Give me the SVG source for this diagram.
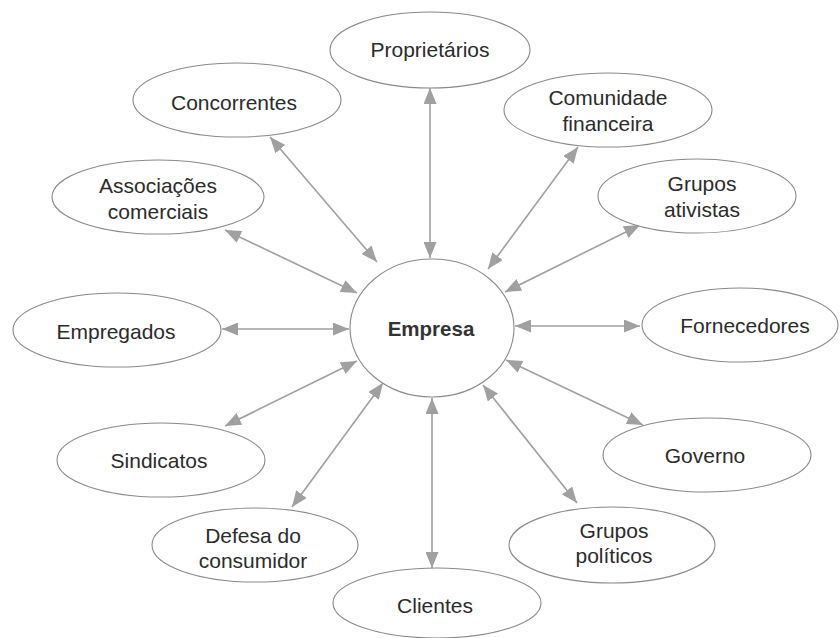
<svg xmlns="http://www.w3.org/2000/svg" width="840" height="638" viewBox="0 0 840 638">
<style>
.n ellipse{fill:#fff;stroke:#8a8a8a;stroke-width:1.1}
.n text{font-family:"Liberation Sans",Arial,sans-serif;font-size:21px;fill:#2b2b2b;text-anchor:middle}
#empresa text{font-weight:bold;font-size:20.5px;fill:#333}
.c line{stroke:#a0a0a0;stroke-width:1.6;marker-start:url(#ah);marker-end:url(#ah)}
</style>
<defs>
<marker id="ah" markerUnits="userSpaceOnUse" markerWidth="17" markerHeight="13" refX="16" refY="6.5" orient="auto-start-reverse">
<path d="M0,0 L16,6.5 L0,13 Z" fill="#a0a0a0"/>
</marker>
</defs>
<rect width="840" height="638" fill="#fff"/>
<g class="c" id="connectors">
<line x1="430" y1="258" x2="430" y2="88"/>
<line x1="377" y1="262" x2="270" y2="137"/>
<line x1="488" y1="269" x2="578" y2="147"/>
<line x1="505" y1="292" x2="640" y2="225"/>
<line x1="357" y1="293" x2="225" y2="230"/>
<line x1="349" y1="329" x2="222" y2="329"/>
<line x1="515" y1="326" x2="640" y2="326"/>
<line x1="506" y1="360" x2="643" y2="425"/>
<line x1="483" y1="385" x2="577" y2="503"/>
<line x1="432" y1="398" x2="432" y2="568"/>
<line x1="383" y1="383" x2="292" y2="507"/>
<line x1="357" y1="361" x2="225" y2="426"/>
</g>
<g class="n" id="empresa"><ellipse cx="432" cy="328" rx="82" ry="69"/><text x="431" y="336">Empresa</text></g>
<g class="n" id="proprietarios"><ellipse cx="430" cy="50" rx="100" ry="38"/><text x="430" y="57">Proprietários</text></g>
<g class="n" id="concorrentes"><ellipse cx="237" cy="100" rx="104" ry="37"/><text x="234" y="110">Concorrentes</text></g>
<g class="n" id="comunidade"><ellipse cx="608" cy="110" rx="104" ry="37"/><text x="608" y="105">Comunidade</text><text x="608" y="131">financeira</text></g>
<g class="n" id="ativistas"><ellipse cx="697" cy="196" rx="99" ry="37"/><text x="702" y="191">Grupos</text><text x="702" y="217">ativistas</text></g>
<g class="n" id="associacoes"><ellipse cx="158" cy="197" rx="106" ry="37"/><text x="158" y="193">Associações</text><text x="158" y="219">comerciais</text></g>
<g class="n" id="empregados"><ellipse cx="117" cy="330" rx="104" ry="37"/><text x="116" y="339">Empregados</text></g>
<g class="n" id="fornecedores"><ellipse cx="740" cy="325" rx="98" ry="37"/><text x="745" y="333">Fornecedores</text></g>
<g class="n" id="governo"><ellipse cx="707" cy="455" rx="104" ry="37"/><text x="705" y="463">Governo</text></g>
<g class="n" id="sindicatos"><ellipse cx="161" cy="460" rx="104" ry="37"/><text x="159" y="468">Sindicatos</text></g>
<g class="n" id="defesa"><ellipse cx="255" cy="545" rx="103" ry="37"/><text x="253" y="543">Defesa do</text><text x="253" y="568">consumidor</text></g>
<g class="n" id="politicos"><ellipse cx="612" cy="545" rx="103" ry="38"/><text x="614" y="538">Grupos</text><text x="614" y="563">políticos</text></g>
<g class="n" id="clientes"><ellipse cx="437" cy="603" rx="104" ry="35"/><text x="435" y="613">Clientes</text></g>
</svg>
